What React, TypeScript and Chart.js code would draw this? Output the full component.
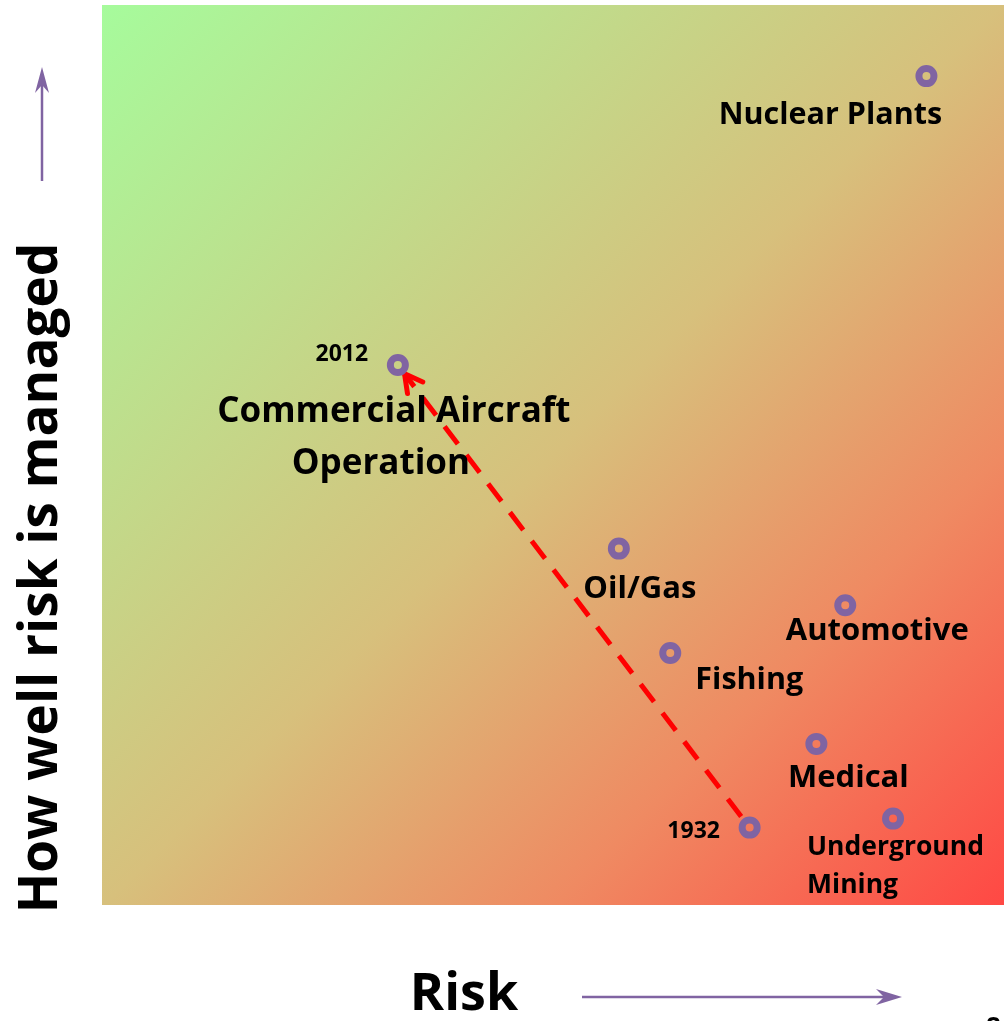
import React, { useEffect, useRef } from "react";
import { Chart, registerables } from "chart.js";
Chart.register(...registerables);

// ---- data ----
const industries = ["Nuclear Plants", "Oil/Gas", "Automotive", "Fishing", "Medical", "Underground Mining"];
const industryRisk = [91.4, 57.3, 82.4, 63.0, 79.2, 87.7];
const industryManaged = [92.1, 39.6, 33.3, 28.0, 17.9, 9.6];

const aviationName = "Commercial Aircraft Operation";
const aviationYears = ["1932", "2012"];
const aviationRisk = [71.8, 32.8];
const aviationManaged = [8.6, 60.0];

const xTitle = "Risk";
const yTitle = "How well risk is managed";
const pageNumber = "8";

// ---- styles ----
const PURPLE = "#8064a2";
const FONT = "'Open Sans', Lato, sans-serif";

// label layout: lines with pixel offsets from the point
type Line = { text: string; dx: number; dy: number; size: number; align?: CanvasTextAlign };
const industryLabelLayout: Line[][] = [
  [{ text: "Nuclear Plants", dx: -96, dy: 39, size: 30.5 }],
  [{ text: "Oil/Gas", dx: 21, dy: 41, size: 31 }],
  [{ text: "Automotive", dx: 32, dy: 26, size: 31 }],
  [{ text: "Fishing", dx: 79, dy: 27, size: 30.5 }],
  [{ text: "Medical", dx: 32, dy: 34, size: 31 }],
  [
    { text: "Underground", dx: -86, dy: 29, size: 26.5, align: "left" },
    { text: "Mining", dx: -86, dy: 67, size: 26.5, align: "left" },
  ],
];
const aviationNameLayout: Line[] = [
  { text: "Commercial Aircraft", dx: -4, dy: 47, size: 35 },
  { text: "Operation", dx: -17, dy: 99, size: 35 },
];
const yearLabelLayout: Line[] = [
  { text: aviationYears[0], dx: -56, dy: 4, size: 23 },
  { text: aviationYears[1], dx: -56, dy: -11, size: 23 },
];

function drawLines(ctx: CanvasRenderingContext2D, x: number, y: number, lines: Line[]) {
  for (const l of lines) {
    ctx.font = `bold ${l.size}px ${FONT}`;
    ctx.fillStyle = "#000";
    ctx.textAlign = l.align || "center";
    ctx.textBaseline = "middle";
    ctx.fillText(l.text, x + l.dx, y + l.dy);
  }
}

const decorPlugin = {
  id: "decor",
  beforeDatasetsDraw(chart: any) {
    const { ctx, chartArea: a, scales } = chart;
    ctx.save();
    // background gradient
    const g = ctx.createLinearGradient(a.left, a.top, a.right, a.bottom);
    g.addColorStop(0, "#a6fb9c");
    g.addColorStop(0.5, "#d7c07c");
    g.addColorStop(0.75, "#ef8a62");
    g.addColorStop(1, "#ff4844");
    ctx.fillStyle = g;
    ctx.fillRect(a.left, a.top, a.right - a.left, a.bottom - a.top);

    // dashed trend arrow 1932 -> 2012
    const x0 = scales.x.getPixelForValue(aviationRisk[0]);
    const y0 = scales.y.getPixelForValue(aviationManaged[0]);
    const x1 = scales.x.getPixelForValue(aviationRisk[1]);
    const y1 = scales.y.getPixelForValue(aviationManaged[1]);
    const len = Math.hypot(x1 - x0, y1 - y0);
    const ux = (x1 - x0) / len, uy = (y1 - y0) / len;
    const sx = x0 + ux * 14, sy = y0 + uy * 14;
    const ex = x1 - ux * 11, ey = y1 - uy * 11;
    ctx.strokeStyle = "#ff0000";
    ctx.lineWidth = 5;
    ctx.setLineDash([22, 14]);
    ctx.beginPath();
    ctx.moveTo(sx, sy);
    ctx.lineTo(ex, ey);
    ctx.stroke();
    ctx.setLineDash([]);
    const ang = Math.atan2(uy, ux);
    const hl = 20;
    ctx.lineCap = "round";
    ctx.beginPath();
    ctx.moveTo(ex - hl * Math.cos(ang - 0.5), ey - hl * Math.sin(ang - 0.5));
    ctx.lineTo(ex, ey);
    ctx.lineTo(ex - hl * Math.cos(ang + 0.5), ey - hl * Math.sin(ang + 0.5));
    ctx.stroke();
    ctx.restore();
  },
  afterDatasetsDraw(chart: any) {
    const { ctx, scales } = chart;
    ctx.save();
    industries.forEach((_, i) => {
      const x = scales.x.getPixelForValue(industryRisk[i]);
      const y = scales.y.getPixelForValue(industryManaged[i]);
      drawLines(ctx, x, y, industryLabelLayout[i]);
    });
    const ax = scales.x.getPixelForValue(aviationRisk[1]);
    const ay = scales.y.getPixelForValue(aviationManaged[1]);
    drawLines(ctx, ax, ay, aviationNameLayout);
    aviationYears.forEach((_, i) => {
      const x = scales.x.getPixelForValue(aviationRisk[i]);
      const y = scales.y.getPixelForValue(aviationManaged[i]);
      drawLines(ctx, x, y, [yearLabelLayout[i]]);
    });

    // axis titles
    ctx.fillStyle = "#000";
    ctx.font = `bold 52px ${FONT}`;
    ctx.textAlign = "center";
    ctx.textBaseline = "middle";
    ctx.fillText(xTitle, 464, 995);
    ctx.save();
    ctx.translate(42, 578);
    ctx.rotate(-Math.PI / 2);
    ctx.font = `bold 53px ${FONT}`;
    ctx.fillText(yTitle, 0, 0);
    ctx.restore();

    ctx.font = `bold 26px ${FONT}`;
    ctx.textAlign = "left";
    ctx.textBaseline = "alphabetic";
    ctx.fillText(pageNumber, 986, 1036);

    // arrows
    ctx.strokeStyle = PURPLE;
    ctx.fillStyle = PURPLE;
    ctx.lineWidth = 2.5;
    ctx.beginPath();
    ctx.moveTo(42, 181);
    ctx.lineTo(42, 85);
    ctx.stroke();
    ctx.beginPath();
    ctx.moveTo(42, 67);
    ctx.lineTo(49, 93);
    ctx.lineTo(42, 85);
    ctx.lineTo(35, 93);
    ctx.closePath();
    ctx.fill();

    ctx.beginPath();
    ctx.moveTo(582, 997);
    ctx.lineTo(885, 997);
    ctx.stroke();
    ctx.beginPath();
    ctx.moveTo(902, 997);
    ctx.lineTo(876, 989);
    ctx.lineTo(884, 997);
    ctx.lineTo(876, 1005);
    ctx.closePath();
    ctx.fill();
    ctx.restore();
  },
};

export default function App() {
  const ref = useRef<HTMLCanvasElement>(null);
  useEffect(() => {
    if (!ref.current) return;
    const chart = new Chart(ref.current, {
      type: "scatter",
      data: {
        datasets: [
          {
            label: "Industries",
            data: industries.map((_, i) => ({ x: industryRisk[i], y: industryManaged[i] })),
            pointRadius: 7.5,
            pointBorderWidth: 7,
            pointBorderColor: PURPLE,
            pointBackgroundColor: "rgba(0,0,0,0)",
          },
          {
            label: aviationName,
            data: aviationYears.map((_, i) => ({ x: aviationRisk[i], y: aviationManaged[i] })),
            pointRadius: 7.5,
            pointBorderWidth: 7,
            pointBorderColor: PURPLE,
            pointBackgroundColor: "rgba(0,0,0,0)",
          },
        ],
      },
      options: {
        animation: false,
        responsive: false,
        maintainAspectRatio: false,
        layout: { autoPadding: false, padding: { left: 102, right: 0, top: 5, bottom: 116 } },
        plugins: { legend: { display: false }, tooltip: { enabled: false } },
        scales: {
          x: { type: "linear", min: 0, max: 100, display: false },
          y: { type: "linear", min: 0, max: 100, display: false },
        },
      },
      plugins: [decorPlugin],
    });
    return () => chart.destroy();
  }, []);
  return (
    <div style={{ position: "fixed", left: 0, top: 0, width: 1004, height: 1021, background: "#fff" }}>
      <canvas ref={ref} width={1004} height={1021} style={{ display: "block" }} />
    </div>
  );
}
